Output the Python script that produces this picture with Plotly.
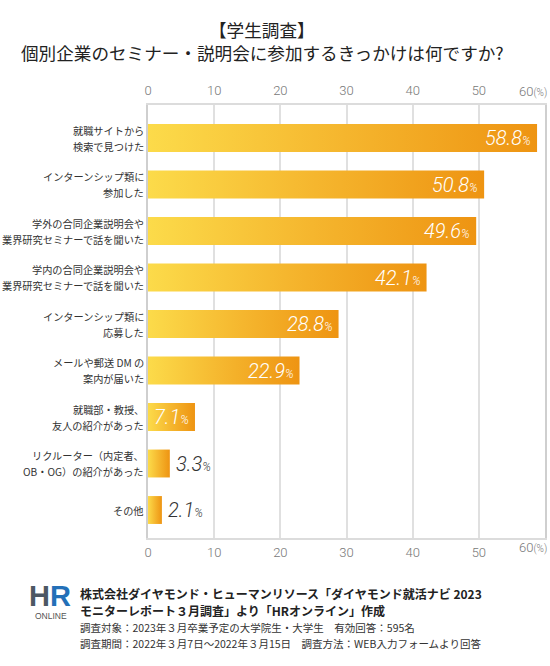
import plotly.graph_objects as go

# ---- data ----
categories = [
    "就職サイトから\n検索で見つけた",
    "インターンシップ類に\n参加した",
    "学外の合同企業説明会や\n業界研究セミナーで話を聞いた",
    "学内の合同企業説明会や\n業界研究セミナーで話を聞いた",
    "インターンシップ類に\n応募した",
    "メールや郵送 DM の\n案内が届いた",
    "就職部・教授、\n友人の紹介があった",
    "リクルーター（内定者、\nOB・OG）の紹介があった",
    "その他",
]
values = [58.8, 50.8, 49.6, 42.1, 28.8, 22.9, 7.1, 3.3, 2.1]
x_ticks = [0, 10, 20, 30, 40, 50, 60]
x_ticklabels = ["0", "10", "20", "30", "40", "50", ""]

title_lines = ["【学生調査】", "個別企業のセミナー・説明会に参加するきっかけは何ですか?"]
footer_bold = ["株式会社ダイヤモンド・ヒューマンリソース「ダイヤモンド就活ナビ 2023",
               "モニターレポート３月調査」より「HRオンライン」作成"]
footer_small = ["調査対象：2023年３月卒業予定の大学院生・大学生　有効回答：595名",
                "調査期間：2022年３月7日～2022年３月15日　調査方法：WEB入力フォームより回答"]

# ---- layout geometry ----
W_FIG, H_FIG = 550, 666
ML, MR, MT, MB = 148, 5, 105, 128
PW = W_FIG - ML - MR
PH = H_FIG - MT - MB


def px(xp):
    return (xp - ML) / PW


def py(yp):
    return (H_FIG - MB - yp) / PH


JP = "Noto Sans CJK JP"
NUM = "Roboto"
BAR_HALF = 0.3
GRAD = [[0, "#FCDB4A"], [0.5, "#F5B62E"], [1, "#EE9412"]]

fig = go.Figure()
idx = list(range(len(categories)))

for i, v in zip(idx, values):
    fig.add_trace(go.Scatter(
        x=[0, v, v, 0, 0],
        y=[i - BAR_HALF, i - BAR_HALF, i + BAR_HALF, i + BAR_HALF, i - BAR_HALF],
        mode="lines", fill="toself",
        line=dict(width=0, color="rgba(0,0,0,0)"),
        fillgradient=dict(type="horizontal", colorscale=GRAD),
        hoverinfo="skip", showlegend=False,
    ))

# invisible trace to carry the top axis
fig.add_trace(go.Scatter(x=values, y=idx, xaxis="x2", mode="markers",
                         marker=dict(opacity=0), hoverinfo="skip", showlegend=False))

ann = []
# value labels
for i, v in zip(idx, values):
    inside = v >= 5
    ann.append(dict(
        x=v, y=i, xref="x", yref="y",
        xanchor="right" if inside else "left",
        xshift=-4 if inside else 4, yshift=0,
        text=f"{v:.1f}<span style='font-size:12px'>%</span>",
        showarrow=False,
        font=dict(family=NUM, size=20, weight=300, style="italic",
                  color="#ffffff" if inside else "#333333"),
    ))

# category labels (each line separately)
for i, lab in zip(idx, categories):
    lines = lab.split("\n")
    n = len(lines)
    for j, ln in enumerate(lines):
        ann.append(dict(
            x=0, y=i, xref="x", yref="y", xanchor="right", xshift=-2,
            yshift=((n - 1) / 2 - j) * 16,
            text=ln, showarrow=False,
            font=dict(family=JP, size=10.2, color="#333333"),
        ))

# 60(%) labels top and bottom
for yy in (91, 547):
    ann.append(dict(
        x=px(549), y=py(yy), xref="paper", yref="paper",
        xanchor="right", yanchor="middle",
        text="60<span style='font-size:10px'>(%)</span>",
        showarrow=False, font=dict(family=NUM, size=13, weight=300, color="#777777"),
    ))

# title
for t, yy in zip(title_lines, (29, 53)):
    ann.append(dict(x=px(262), y=py(yy), xref="paper", yref="paper",
                    xanchor="center", yanchor="middle", text=t, showarrow=False,
                    borderpad=0,
                    font=dict(family=JP, size=17.6, color="#222222")))

# footer
for t, yy in zip(footer_bold, (593, 610)):
    ann.append(dict(x=px(78), y=py(yy), xref="paper", yref="paper",
                    xanchor="left", yanchor="middle", text=f"<b>{t}</b>", showarrow=False,
                    font=dict(family=JP, size=12, color="#222222")))
for t, yy in zip(footer_small, (627, 643)):
    ann.append(dict(x=px(78), y=py(yy), xref="paper", yref="paper",
                    xanchor="left", yanchor="middle", text=t, showarrow=False,
                    font=dict(family=JP, size=10.5, color="#333333")))

# logo
ann.append(dict(x=px(50), y=py(596), xref="paper", yref="paper",
                xanchor="center", yanchor="middle",
                text="<b><span style='color:#4d5864'>H</span><span style='color:#2370b8'>R</span></b>",
                showarrow=False, font=dict(family="Liberation Sans", size=29, color="#4d5864")))
ann.append(dict(x=px(51), y=py(616), xref="paper", yref="paper",
                xanchor="center", yanchor="middle", text="ONLINE",
                showarrow=False, font=dict(family="Liberation Sans", size=8.5, color="#555555")))

axis_common = dict(
    range=[0, 60], tickvals=x_ticks, ticktext=x_ticklabels,
    tickfont=dict(family=NUM, size=13, weight=300, color="#777777"),
    zeroline=False, fixedrange=True,
)

fig.update_layout(
    width=W_FIG, height=H_FIG,
    margin=dict(l=ML, r=MR, t=MT, b=MB, autoexpand=False),
    paper_bgcolor="white", plot_bgcolor="white",
    xaxis=dict(**axis_common, side="bottom", showgrid=True, gridcolor="#e0e0e0", gridwidth=1.5,
               showline=True, linecolor="#dcdcdc", linewidth=1.5, mirror=True,
               ticks="outside", ticklen=2, tickcolor="rgba(0,0,0,0)"),
    xaxis2=dict(**axis_common, side="top", overlaying="x", matches="x", showgrid=False,
                showline=False, ticks="outside", ticklen=4, tickcolor="rgba(0,0,0,0)"),
    yaxis=dict(range=[8.602, -0.71], showticklabels=False, showgrid=False, zeroline=False,
               showline=True, linecolor="#cfcfcf", linewidth=1.5, mirror=True, fixedrange=True),
    annotations=ann,
    showlegend=False,
)

fig.write_html("out.html", config={"displayModeBar": False},
               post_script="document.body.style.margin='0';")
